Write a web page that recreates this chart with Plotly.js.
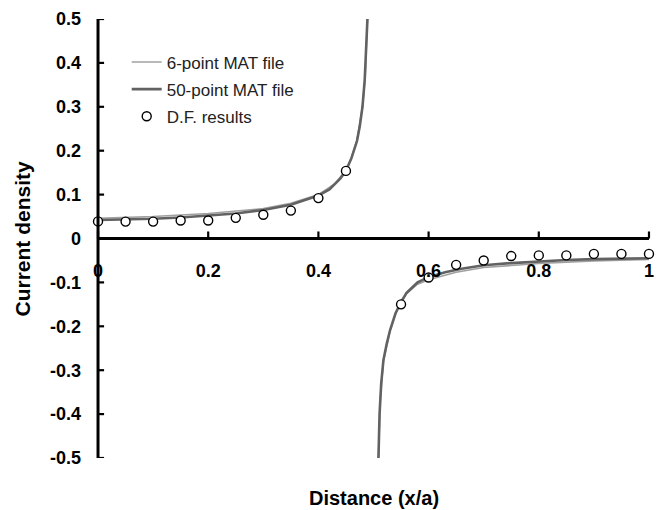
<!DOCTYPE html>
<html>
<head>
<meta charset="utf-8">
<script src="https://cdn.plot.ly/plotly-3.0.1.min.js"></script>
<style>html,body{margin:0;padding:0;background:#fff;}#chart{width:665px;height:510px;}</style>
</head>
<body>
<div id="chart"></div>
<script>
// 50-point MAT file curve (null separates the two branches)
const x50 = [0, 0.05, 0.1, 0.15, 0.2, 0.25, 0.3, 0.35, 0.4, 0.42, 0.44, 0.45, 0.46, 0.47, 0.475, 0.48, 0.484, 0.487, 0.489,
  null,
  0.509, 0.511, 0.514, 0.518, 0.524, 0.53, 0.54, 0.55, 0.56, 0.58, 0.6, 0.63, 0.66, 0.7, 0.75, 0.8, 0.85, 0.9, 0.95, 1.0];
const y50 = [0.042, 0.043, 0.045, 0.048, 0.052, 0.057, 0.065, 0.077, 0.098, 0.112, 0.137, 0.154, 0.183, 0.222, 0.255, 0.30, 0.36, 0.43, 0.50,
  null,
  -0.50, -0.40, -0.33, -0.277, -0.24, -0.209, -0.17, -0.145, -0.124, -0.100, -0.088, -0.077, -0.069, -0.061, -0.056, -0.052, -0.049, -0.047, -0.046, -0.045];

// 6-point MAT file curve
const x6 = [0, 0.1, 0.2, 0.3, 0.35, 0.4, 0.43, 0.45, 0.46, 0.47, 0.48, 0.485, 0.489,
  null,
  0.509, 0.512, 0.518, 0.53, 0.545, 0.56, 0.58, 0.6, 0.65, 0.7, 0.8, 0.9, 1.0];
const y6 = [0.046, 0.050, 0.057, 0.068, 0.080, 0.100, 0.125, 0.156, 0.185, 0.224, 0.30, 0.37, 0.50,
  null,
  -0.50, -0.37, -0.28, -0.21, -0.155, -0.125, -0.104, -0.094, -0.077, -0.066, -0.057, -0.051, -0.048];

// D.F. results
const xDF = [0, 0.05, 0.1, 0.15, 0.2, 0.25, 0.3, 0.35, 0.4, 0.45,
  0.55, 0.6, 0.65, 0.7, 0.75, 0.8, 0.85, 0.9, 0.95, 1.0];
const yDF = [0.039, 0.0385, 0.0385, 0.041, 0.041, 0.047, 0.054, 0.0635, 0.092, 0.154,
  -0.150, -0.089, -0.060, -0.050, -0.040, -0.0385, -0.0385, -0.035, -0.035, -0.035];

const xTickVals = [0, 0.2, 0.4, 0.6, 0.8, 1];
const xTickText = ['0', '0.2', '0.4', '0.6', '0.8', '1'];
const yTickVals = [0.5, 0.4, 0.3, 0.2, 0.1, 0, -0.1, -0.2, -0.3, -0.4, -0.5];
const yTickText = ['0.5', '0.4', '0.3', '0.2', '0.1', '0', '-0.1', '-0.2', '-0.3', '-0.4', '-0.5'];

const FONT = 'Liberation Sans, Arial, sans-serif';
const XPAD = 0.02;           // small padding so the end circles are not clipped
const X_RANGE = [-XPAD, 1 + XPAD];
const Y_RANGE = [-0.5, 0.5];

// axis frame drawn as shapes (cross at the origin, inward ticks)
const X_TICK_LEN = 0.016;    // in y data units (~7 px)
const Y_TICK_LEN = 0.011;    // in x data units (~6 px)
const shapes = [
  {type: 'line', xref: 'x', yref: 'y', x0: 0, x1: 1, y0: 0, y1: 0, line: {color: '#000', width: 3}, layer: 'above'},
  {type: 'line', xref: 'x', yref: 'y', x0: 0, x1: 0, y0: Y_RANGE[0], y1: Y_RANGE[1], line: {color: '#000', width: 3}, layer: 'above'}
];
xTickVals.forEach(v => shapes.push({type: 'line', xref: 'x', yref: 'y', x0: v, x1: v, y0: 0, y1: X_TICK_LEN,
  line: {color: '#000', width: 2.2}, layer: 'above'}));
yTickVals.forEach(v => shapes.push({type: 'line', xref: 'x', yref: 'y', x0: 0, x1: Y_TICK_LEN, y0: v, y1: v,
  line: {color: '#000', width: 2.2}, layer: 'above'}));

const traces = [
  {x: x6, y: y6, type: 'scatter', mode: 'lines', name: '6-point MAT file',
   line: {color: '#a0a0a0', width: 1.6}, connectgaps: false, legendgroup: 'a'},
  {x: x50, y: y50, type: 'scatter', mode: 'lines', name: '50-point MAT file',
   line: {color: '#626262', width: 2.6}, connectgaps: false, legendgroup: 'b'},
  {x: xDF, y: yDF, type: 'scatter', mode: 'markers', name: 'D.F. results',
   marker: {symbol: 'circle', size: 9, color: '#ffffff', line: {color: '#000000', width: 1.4}},
   legendgroup: 'c'}
];

const layout = {
  width: 665, height: 510,
  margin: {l: 87, r: 5, t: 19, b: 52},
  paper_bgcolor: '#ffffff', plot_bgcolor: '#ffffff',
  font: {family: FONT, color: '#000'},
  showlegend: true,
  legend: {x: 0.0693, y: 0.942, xanchor: 'left', yanchor: 'top', bgcolor: 'rgba(0,0,0,0)',
    font: {family: FONT, size: 17, color: '#222'}, traceorder: 'grouped', tracegroupgap: 2},
  xaxis: {
    range: X_RANGE, anchor: 'free', position: 0.5,
    showline: false, ticks: '',
    tickvals: xTickVals, ticktext: xTickText,
    tickfont: {family: FONT, size: 18, weight: 'bold', color: '#000'},
    ticklabelstandoff: 19,
    showgrid: false, zeroline: false, fixedrange: true
  },
  yaxis: {
    range: Y_RANGE, anchor: 'free', position: XPAD / (1 + 2 * XPAD),
    showline: false, ticks: '',
    tickvals: yTickVals, ticktext: yTickText,
    tickfont: {family: FONT, size: 18, weight: 'bold', color: '#000'},
    ticklabelstandoff: 17,
    showgrid: false, zeroline: false, fixedrange: true
  },
  shapes: shapes,
  annotations: [
    {text: 'Current density', xref: 'paper', yref: 'paper', x: -0.1134, y: 0.5,
     textangle: -90, showarrow: false, xanchor: 'center', yanchor: 'middle',
     font: {family: FONT, size: 21, weight: 'bold', color: '#000'}},
    {text: 'Distance (x/a)', xref: 'paper', yref: 'paper', x: 0.5009, y: -0.0911,
     showarrow: false, xanchor: 'center', yanchor: 'middle',
     font: {family: FONT, size: 20, weight: 'bold', color: '#000'}}
  ]
};

Plotly.newPlot('chart', traces, layout, {displayModeBar: false, staticPlot: true});
</script>
</body>
</html>
